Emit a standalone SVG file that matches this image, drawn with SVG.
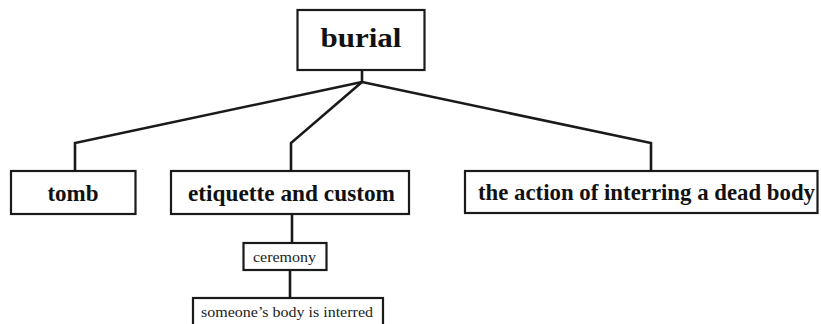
<svg xmlns="http://www.w3.org/2000/svg" width="821" height="324" viewBox="0 0 821 324">
<style>
.box{fill:#fff;stroke:#1a1a1a;stroke-width:2.2}
.line{fill:none;stroke:#1a1a1a;stroke-width:2.6;stroke-linejoin:miter}
.b{font-family:"Liberation Serif","Times New Roman",serif;font-weight:bold;fill:#111;text-anchor:middle}
.r{font-family:"Liberation Serif","Times New Roman",serif;fill:#222;text-anchor:middle}
</style>
<rect width="821" height="324" fill="#fff"/>
<g id="connectors">
<path class="line" d="M362,70 V82"/>
<path class="line" d="M362,82 L75,143 V171"/>
<path class="line" d="M362,82 L291,143 V171"/>
<path class="line" d="M362,82 L651,143 V171"/>
<path class="line" d="M292,214 V243"/>
<path class="line" d="M290,270 V298"/>
</g>
<g id="burial">
<rect class="box" x="297.5" y="10" width="127" height="60"/>
<text class="b" x="361" y="47" font-size="28" textLength="81" lengthAdjust="spacingAndGlyphs">burial</text>
</g>
<g id="tomb">
<rect class="box" x="11" y="171" width="124.5" height="43"/>
<text class="b" x="73" y="201" font-size="23">tomb</text>
</g>
<g id="etiquette">
<rect class="box" x="171" y="171" width="238" height="43"/>
<text class="b" x="291.5" y="201" font-size="23" textLength="207" lengthAdjust="spacingAndGlyphs">etiquette and custom</text>
</g>
<g id="action">
<rect class="box" x="465" y="171" width="352.5" height="42"/>
<text class="b" x="646.5" y="200" font-size="23" textLength="337" lengthAdjust="spacingAndGlyphs">the action of interring a dead body</text>
</g>
<g id="ceremony">
<rect class="box" x="243.5" y="243" width="83" height="27"/>
<text class="r" x="284.5" y="261.5" font-size="14" textLength="63" lengthAdjust="spacingAndGlyphs">ceremony</text>
</g>
<g id="interred">
<rect class="box" x="193" y="298" width="190" height="40"/>
<text class="r" x="287" y="317" font-size="14" textLength="172" lengthAdjust="spacingAndGlyphs">someone’s body is interred</text>
</g>
</svg>
